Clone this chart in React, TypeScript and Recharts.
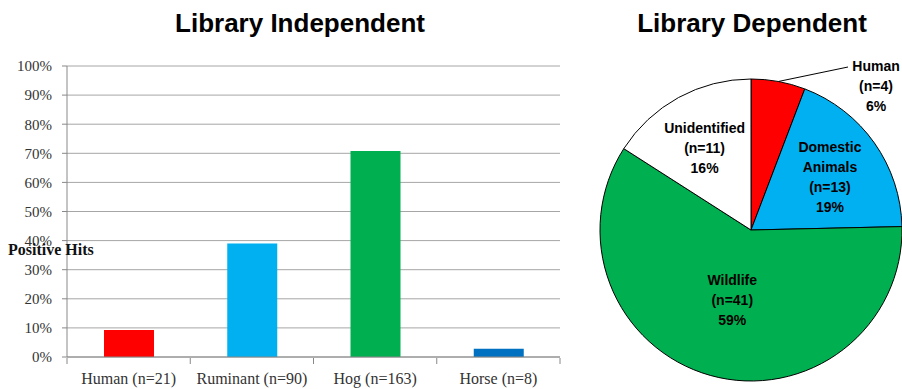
import { BarChart, Bar, XAxis, YAxis, CartesianGrid, Cell, PieChart, Pie } from 'recharts';

// Left chart: share of positive hits per host library
const hostCategories = ['Human (n=21)', 'Ruminant (n=90)', 'Hog (n=163)', 'Horse (n=8)'];
const hitShares = [0.093, 0.39, 0.708, 0.028];
const barColors = ['#FF0000', '#00B0F0', '#00B050', '#0070C0'];
const yTicks = [0, 0.1, 0.2, 0.3, 0.4, 0.5, 0.6, 0.7, 0.8, 0.9, 1];

// Right chart: library dependent source counts
const sourceNames = ['Human', 'Domestic Animals', 'Wildlife', 'Unidentified'];
const sourceCounts = [4, 13, 41, 11];
const sliceColors = ['#FF0000', '#00B0F0', '#00B050', '#FFFFFF'];

const barData = hostCategories.map((name, i) => ({ name, share: hitShares[i] }));
const pieData = sourceNames.map((name, i) => ({ name, value: sourceCounts[i] }));

const serif = '"Liberation Serif", "Times New Roman", serif';
const sans = '"Liberation Sans", Arial, sans-serif';
const RAD = Math.PI / 180;

function CategoryTick(props: any) {
  const { x, y, payload, index } = props;
  const band = 123.25;
  return (
    <g>
      <line x1={x - band / 2} y1={y - 7} x2={x - band / 2} y2={y - 1} stroke="#888" />
      {index === hostCategories.length - 1 && (
        <line x1={x + band / 2} y1={y - 7} x2={x + band / 2} y2={y - 1} stroke="#888" />
      )}
      <text x={x} y={y + 19} textAnchor="middle" fontFamily={serif} fontSize={16} fill="#333">
        {payload.value}
      </text>
    </g>
  );
}

function renderSliceLabel(props: any) {
  const { cx, cy, midAngle, outerRadius, index, percent } = props;
  const lines = [...sourceNames[index].split(' '), `(n=${sourceCounts[index]})`, `${Math.round(percent * 100)}%`];
  const step = 20;
  const font = { fontFamily: sans, fontSize: 14, fontWeight: 'bold', fill: '#000' } as any;

  if (index === 0) {
    // small slice: label outside with a leader line
    const ex = cx + outerRadius * Math.cos(-midAngle * RAD);
    const ey = cy + outerRadius * Math.sin(-midAngle * RAD);
    return (
      <g>
        <line x1={ex} y1={ey} x2={cx + 97} y2={cy - 163} stroke="#000" strokeWidth={1} />
        {lines.map((t, k) => (
          <text key={k} x={cx + 125} y={cy - 164 + k * step} dy="0.35em" textAnchor="middle" {...font}>{t}</text>
        ))}
      </g>
    );
  }

  const factor = index === 2 ? 0.46 : 0.64;
  const px = cx + outerRadius * factor * Math.cos(-midAngle * RAD);
  const py = cy + 3 + outerRadius * factor * Math.sin(-midAngle * RAD);
  const top = py - ((lines.length - 1) * step) / 2;
  return (
    <g>
      {lines.map((t, k) => (
        <text key={k} x={px} y={top + k * step} dy="0.35em" textAnchor="middle" {...font}>{t}</text>
      ))}
    </g>
  );
}

export default function App() {
  return (
    <div style={{ position: 'absolute', left: 0, top: 0, width: 902, height: 389, background: '#fff' }}>
      {/* Library Independent */}
      <div style={{ position: 'absolute', left: 0, top: 0, width: 600, textAlign: 'center', fontFamily: sans, fontWeight: 'bold', fontSize: 26, lineHeight: '46px' }}>
        Library Independent
      </div>
      <div style={{ position: 'absolute', left: 0, top: 0 }}>
        <BarChart width={590} height={389} data={barData} margin={{ top: 66, right: 30, bottom: 0, left: 0 }}>
          <CartesianGrid vertical={false} stroke="#a6a6a6" />
          <XAxis dataKey="name" height={32} tick={<CategoryTick />} tickLine={false} axisLine={{ stroke: '#888' }} interval={0} />
          <YAxis
            width={67}
            domain={[0, 1]}
            ticks={yTicks}
            tickFormatter={(v: number) => `${Math.round(v * 100)}%`}
            tick={{ fontFamily: serif, fontSize: 15, fill: '#333' }}
            tickSize={5}
            tickMargin={10}
            tickLine={{ stroke: '#888' }}
            axisLine={{ stroke: '#888' }}
          />
          <Bar dataKey="share" barSize={50} isAnimationActive={false}>
            {barData.map((d, i) => (
              <Cell key={d.name} fill={barColors[i]} />
            ))}
          </Bar>
        </BarChart>
      </div>
      <div style={{ position: 'absolute', left: 8, top: 241, fontFamily: serif, fontWeight: 'bold', fontSize: 16, color: '#111' }}>
        Positive Hits
      </div>

      {/* Library Dependent */}
      <div style={{ position: 'absolute', left: 600, top: 0, width: 304, textAlign: 'center', fontFamily: sans, fontWeight: 'bold', fontSize: 26, lineHeight: '46px' }}>
        Library Dependent
      </div>
      <div style={{ position: 'absolute', left: 590, top: 0 }}>
        <PieChart width={312} height={389} margin={{ top: 0, right: 0, bottom: 0, left: 0 }}>
          <Pie
            data={pieData}
            dataKey="value"
            nameKey="name"
            cx={161}
            cy={230}
            outerRadius={151}
            startAngle={90}
            endAngle={-270}
            stroke="#000"
            strokeWidth={1}
            label={renderSliceLabel}
            labelLine={false}
            isAnimationActive={false}
          >
            {pieData.map((d, i) => (
              <Cell key={d.name} fill={sliceColors[i]} />
            ))}
          </Pie>
        </PieChart>
      </div>
    </div>
  );
}
